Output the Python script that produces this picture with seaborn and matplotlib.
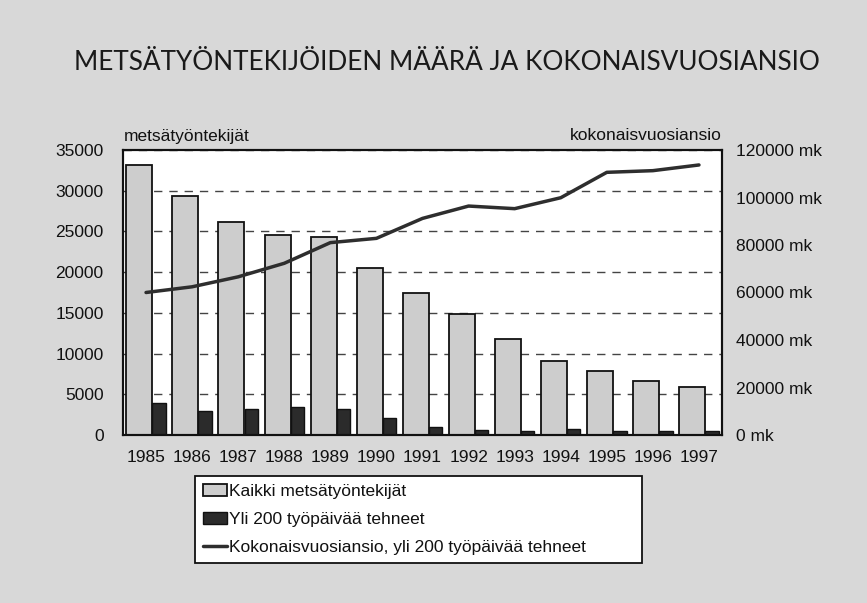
import numpy as np
import pandas as pd
import matplotlib
matplotlib.use("Agg")
import matplotlib.pyplot as plt
import seaborn as sns

years = [1985, 1986, 1987, 1988, 1989, 1990, 1991, 1992, 1993, 1994, 1995, 1996, 1997]
all_workers = [33100, 29300, 26100, 24600, 24300, 20500, 17400, 14900, 11800, 9100, 7800, 6600, 5900]
over200 = [3900, 3000, 3200, 3400, 3150, 2100, 980, 610, 450, 700, 490, 450, 450]
income = [60000, 62400, 66600, 72300, 81000, 82800, 91200, 96400, 95300, 99900, 110600, 111300, 113700]
left_ticks = [0, 5000, 10000, 15000, 20000, 25000, 30000, 35000]
right_ticks = [0, 20000, 40000, 60000, 80000, 100000, 120000]

title = "METSÄTYÖNTEKIJÖIDEN MÄÄRÄ JA KOKONAISVUOSIANSIO"
left_label = "metsätyöntekijät"
right_label = "kokonaisvuosiansio"
series_names = ["Kaikki metsätyöntekijät", "Yli 200 työpäivää tehneet",
                "Kokonaisvuosiansio, yli 200 työpäivää tehneet"]

sns.set_style("white")
plt.rcParams["font.family"] = ["Liberation Sans", "DejaVu Sans"]
FS = 12.5
TC = "#111111"

BG = "#d8d8d8"
fig = plt.figure(figsize=(8.67, 6.03), dpi=100, facecolor=BG)
W, H = 867, 603
ax = fig.add_axes([123 / W, 1 - 435 / H, (722 - 123) / W, (435 - 150) / H])
ax.set_facecolor("white")

df = pd.DataFrame({"year": years, "all": all_workers, "over": over200, "income": income})
df["pos_all"] = df["year"] - 0.146
df["pos_over"] = df["year"] + 0.283

sns.barplot(data=df, x="pos_all", y="all", native_scale=True, width=0.565,
            color="#cdcdcd", saturation=1, edgecolor="#111111", linewidth=1.3,
            errorbar=None, ax=ax, label=series_names[0], zorder=2)
sns.barplot(data=df, x="pos_over", y="over", native_scale=True, width=0.29,
            color="#2b2b2b", saturation=1, edgecolor="#111111", linewidth=1.0,
            errorbar=None, ax=ax, label=series_names[1], zorder=2)
if ax.get_legend() is not None:
    ax.get_legend().remove()

ax.set_xlim(1984.5, 1997.5)
ax.set_ylim(0, 35000)
ax.set_yticks(left_ticks)
ax.set_yticklabels([str(v) for v in left_ticks])
ax.set_xticks(years)
ax.set_xticklabels([str(y) for y in years])
ax.set_xlabel("")
ax.set_ylabel("")
ax.set_axisbelow(True)
ax.yaxis.grid(True, linestyle=(0, (6, 5)), color="#444444", linewidth=1.0)
ax.xaxis.grid(False)
ax.tick_params(axis="y", length=0, pad=14, labelsize=FS, labelcolor=TC)
ax.tick_params(axis="x", length=0, pad=11, labelsize=FS, labelcolor=TC)
for s in ax.spines.values():
    s.set_color("#111111")
    s.set_linewidth(1.5)

ax2 = ax.twinx()
sns.lineplot(data=df, x="year", y="income", ax=ax2, color="#2e2e2e", linewidth=2.5,
             label=series_names[2], legend=False)
ax2.set_ylim(0, 120000)
ax2.set_yticks(right_ticks)
ax2.set_yticklabels([f"{v} mk" for v in right_ticks])
ax2.set_xlabel("")
ax2.set_ylabel("")
ax2.tick_params(axis="y", length=0, pad=10, labelsize=FS, labelcolor=TC)
ax2.grid(False)
for s in ax2.spines.values():
    s.set_color("#111111")
    s.set_linewidth(1.5)
ax.set_xlim(1984.5, 1997.5)

fig.text(447 / W, 1 - 62 / H, title, ha="center", va="center", fontsize=18.8,
         family=["Lato", "DejaVu Sans"], color="#1a1a1a")
fig.text(124 / W, 1 - 136 / H, left_label, ha="left", va="center", fontsize=FS, color=TC)
fig.text(722 / W, 1 - 136 / H, right_label, ha="right", va="center", fontsize=FS, color=TC)

h1, l1 = ax.get_legend_handles_labels()
h2, l2 = ax2.get_legend_handles_labels()
leg = fig.legend(h1 + h2, l1 + l2, loc="upper left",
                 bbox_to_anchor=(195 / W, 1 - 568 / H, (642 - 195) / W, (568 - 476) / H),
                 mode="expand", frameon=True, fancybox=False, fontsize=FS,
                 handlelength=1.4, handletextpad=0.1, labelspacing=0.75,
                 borderpad=0.45, borderaxespad=0, edgecolor="#111111", framealpha=1,
                 labelcolor=TC)
leg.get_frame().set_linewidth(1.3)
leg.get_frame().set_facecolor("white")

fig.savefig("out.png", dpi=100, facecolor=BG)
